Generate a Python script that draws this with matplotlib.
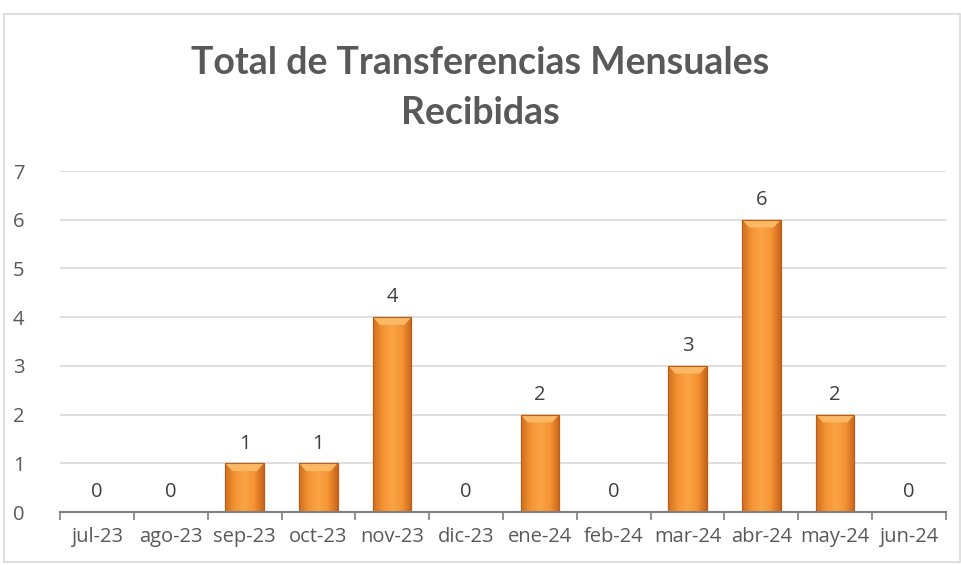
import matplotlib
matplotlib.use("Agg")
import matplotlib.pyplot as plt
import numpy as np
from matplotlib.patches import Rectangle
from matplotlib.colors import LinearSegmentedColormap

months = ["jul-23", "ago-23", "sep-23", "oct-23", "nov-23", "dic-23",
          "ene-24", "feb-24", "mar-24", "abr-24", "may-24", "jun-24"]
values = [0, 0, 1, 1, 4, 0, 2, 0, 3, 6, 2, 0]
title = "Total de Transferencias Mensuales\nRecibidas"

plt.rcParams['font.family'] = ['Open Sans', 'DejaVu Sans']
txt = "#595959"

fig = plt.figure(figsize=(9.61, 5.65), dpi=100)
fig.patch.set_facecolor("white")
# outer chart frame
fig.patches.append(Rectangle((4/961, 3/565), 956/961, 548/565, transform=fig.transFigure,
                             fill=False, edgecolor="#d9d9d9", linewidth=1.2))

ax = fig.add_axes([60/961, 53/565, 886/961, 341/565])
x = np.arange(len(months))
width = 0.52
cmap = LinearSegmentedColormap.from_list("bar", ["#d2701f", "#f59434", "#fba445", "#f59434", "#c9651a"])
grad = np.linspace(0, 1, 64).reshape(1, -1)

bars = ax.bar(x, values, width=width, color="#f7952f", edgecolor="#b85e1a", linewidth=0.8, zorder=3)
for b, v in zip(bars, values):
    if v <= 0:
        continue
    im = ax.imshow(grad, cmap=cmap, aspect="auto", zorder=3.5,
                   extent=(b.get_x(), b.get_x() + b.get_width(), 0, v), interpolation="bicubic")
    im.set_clip_path(b)
    # light top bevel
    ax.fill([b.get_x(), b.get_x() + b.get_width(), b.get_x() + b.get_width() * 0.82, b.get_x() + b.get_width() * 0.18],
            [v, v, v - 0.16, v - 0.16], color="#fbb865", zorder=3.6, linewidth=0)
    ax.bar(b.get_x() + b.get_width() / 2, v, width=width, fill=False, edgecolor="#b85e1a", linewidth=0.8, zorder=3.7)

for xi, v in zip(x, values):
    ax.annotate(str(v), (xi, v), xytext=(0, 7), textcoords="offset points",
                ha="center", va="bottom", fontsize=14.5, color="#404040")

ax.set_xlim(-0.5, len(months) - 0.5)
ax.set_ylim(0, 7)
ax.set_yticks(range(0, 8))
ax.set_xticks(np.arange(-0.5, len(months), 1), minor=False)
ax.set_xticklabels([])
ax.set_xticks(x, minor=True)
ax.set_xticklabels(months, minor=True, fontsize=14.5, color=txt)
ax.tick_params(axis="x", which="major", length=6, color="#7f7f7f", width=1.2)
ax.tick_params(axis="x", which="minor", length=0, pad=11)
ax.tick_params(axis="y", length=0, labelsize=14.5, labelcolor=txt, pad=34)
ax.grid(axis="y", color="#d9d9d9", linewidth=1.2, zorder=0)
for s in ["top", "right", "left"]:
    ax.spines[s].set_visible(False)
ax.spines["bottom"].set_color("#7f7f7f")
ax.spines["bottom"].set_linewidth(1.5)
ax.spines["bottom"].set_zorder(5)
for lbl in ax.get_yticklabels():
    lbl.set_horizontalalignment("left")

fig.text(480/961, 1 - 88/565, title, ha="center", va="center", fontsize=27,
         fontweight="bold", color=txt, linespacing=1.55, family=['Lato', 'DejaVu Sans'])

fig.savefig("out.png", dpi=100)
